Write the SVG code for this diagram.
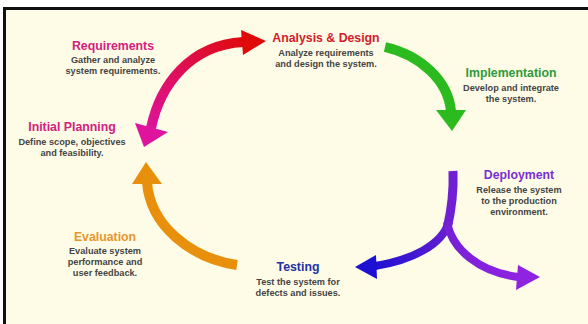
<svg xmlns="http://www.w3.org/2000/svg" width="588" height="324" viewBox="0 0 588 324">
  <style>
    .t{font-family:"Liberation Sans",Arial,sans-serif;font-weight:bold;font-size:12.3px;text-anchor:middle}
    .d{font-family:"Liberation Sans",Arial,sans-serif;font-weight:bold;font-size:9.2px;fill:#454545;text-anchor:middle}
    .s{fill:none;stroke-linecap:butt}
  </style>
  <defs>
    <linearGradient id="gRed" gradientUnits="userSpaceOnUse" x1="150" y1="135" x2="250" y2="42">
      <stop offset="0" stop-color="#DE149E"/>
      <stop offset="1" stop-color="#DF0A0A"/>
    </linearGradient>
    <linearGradient id="gLeft" gradientUnits="userSpaceOnUse" x1="448" y1="226" x2="370" y2="266">
      <stop offset="0" stop-color="#6A1ED2"/>
      <stop offset="1" stop-color="#1C10D2"/>
    </linearGradient>
    <linearGradient id="gRight" gradientUnits="userSpaceOnUse" x1="448" y1="226" x2="520" y2="278">
      <stop offset="0" stop-color="#7420D4"/>
      <stop offset="1" stop-color="#9022E2"/>
    </linearGradient>
  </defs>
  <rect x="0" y="0" width="588" height="324" fill="#ffffff"/>
  <rect x="3" y="7" width="590" height="322" fill="#111111"/>
  <rect x="6" y="10" width="590" height="320" fill="#FEFCE7"/>

  <g id="connectors">
    <!-- Requirements <-> Analysis & Design (double arrow) -->
    <path class="s" d="M151,128 C160,85 190,45 243,42" stroke="url(#gRed)" stroke-width="10"/>
    <polygon points="144,147 135,123 168,132" fill="#DE149E"/>
    <polygon points="266,41 241,30 243,55" fill="#DF0A0A"/>
    <!-- Analysis -> Implementation -->
    <path class="s" d="M385,47 C420,55 448,80 451,111" stroke="#2CBB1E" stroke-width="10"/>
    <polygon points="436,110 466,110 452,131" fill="#2CBB1E"/>
    <!-- Deployment fork -->
    <path class="s" d="M453,171 C454,195 451,212 447,229" stroke="#7020D2" stroke-width="9"/>
    <path class="s" d="M449,222 C442,245 412,260 375,266" stroke="url(#gLeft)" stroke-width="8"/>
    <polygon points="355,267 376,255 377,279" fill="#1C10D2"/>
    <path class="s" d="M447,222 C452,250 480,272 518,277" stroke="url(#gRight)" stroke-width="8"/>
    <polygon points="540,277 518,265 516,290" fill="#9022E2"/>
    <!-- Testing -> Evaluation -> Initial Planning -->
    <path class="s" d="M237,265 C190,258 150,225 147,182" stroke="#E8900C" stroke-width="10"/>
    <polygon points="146,162 132,184 162,184" fill="#E8900C"/>
  </g>

  <g id="analysis">
    <text class="t" x="326" y="42" fill="#D41A2C">Analysis &amp; Design</text>
    <text class="d" x="326" y="56">Analyze requirements</text>
    <text class="d" x="326" y="67">and design the system.</text>
  </g>
  <g id="requirements">
    <text class="t" x="113" y="50" fill="#D4207E">Requirements</text>
    <text class="d" x="113" y="63">Gather and analyze</text>
    <text class="d" x="113" y="74">system requirements.</text>
  </g>
  <g id="initial-planning">
    <text class="t" x="72" y="131" fill="#D4207E">Initial Planning</text>
    <text class="d" x="72" y="145">Define scope, objectives</text>
    <text class="d" x="72" y="156">and feasibility.</text>
  </g>
  <g id="implementation">
    <text class="t" x="511" y="77" fill="#2E9A3C">Implementation</text>
    <text class="d" x="511" y="91">Develop and integrate</text>
    <text class="d" x="511" y="102">the system.</text>
  </g>
  <g id="deployment">
    <text class="t" x="519" y="179" fill="#7A2ED2">Deployment</text>
    <text class="d" x="519" y="193">Release the system</text>
    <text class="d" x="519" y="204">to the production</text>
    <text class="d" x="519" y="215">environment.</text>
  </g>
  <g id="testing">
    <text class="t" x="298" y="271" fill="#2232A2">Testing</text>
    <text class="d" x="298" y="285">Test the system for</text>
    <text class="d" x="298" y="296">defects and issues.</text>
  </g>
  <g id="evaluation">
    <text class="t" x="105" y="241" fill="#E8962C">Evaluation</text>
    <text class="d" x="105" y="254">Evaluate system</text>
    <text class="d" x="105" y="265">performance and</text>
    <text class="d" x="105" y="276">user feedback.</text>
  </g>
</svg>
